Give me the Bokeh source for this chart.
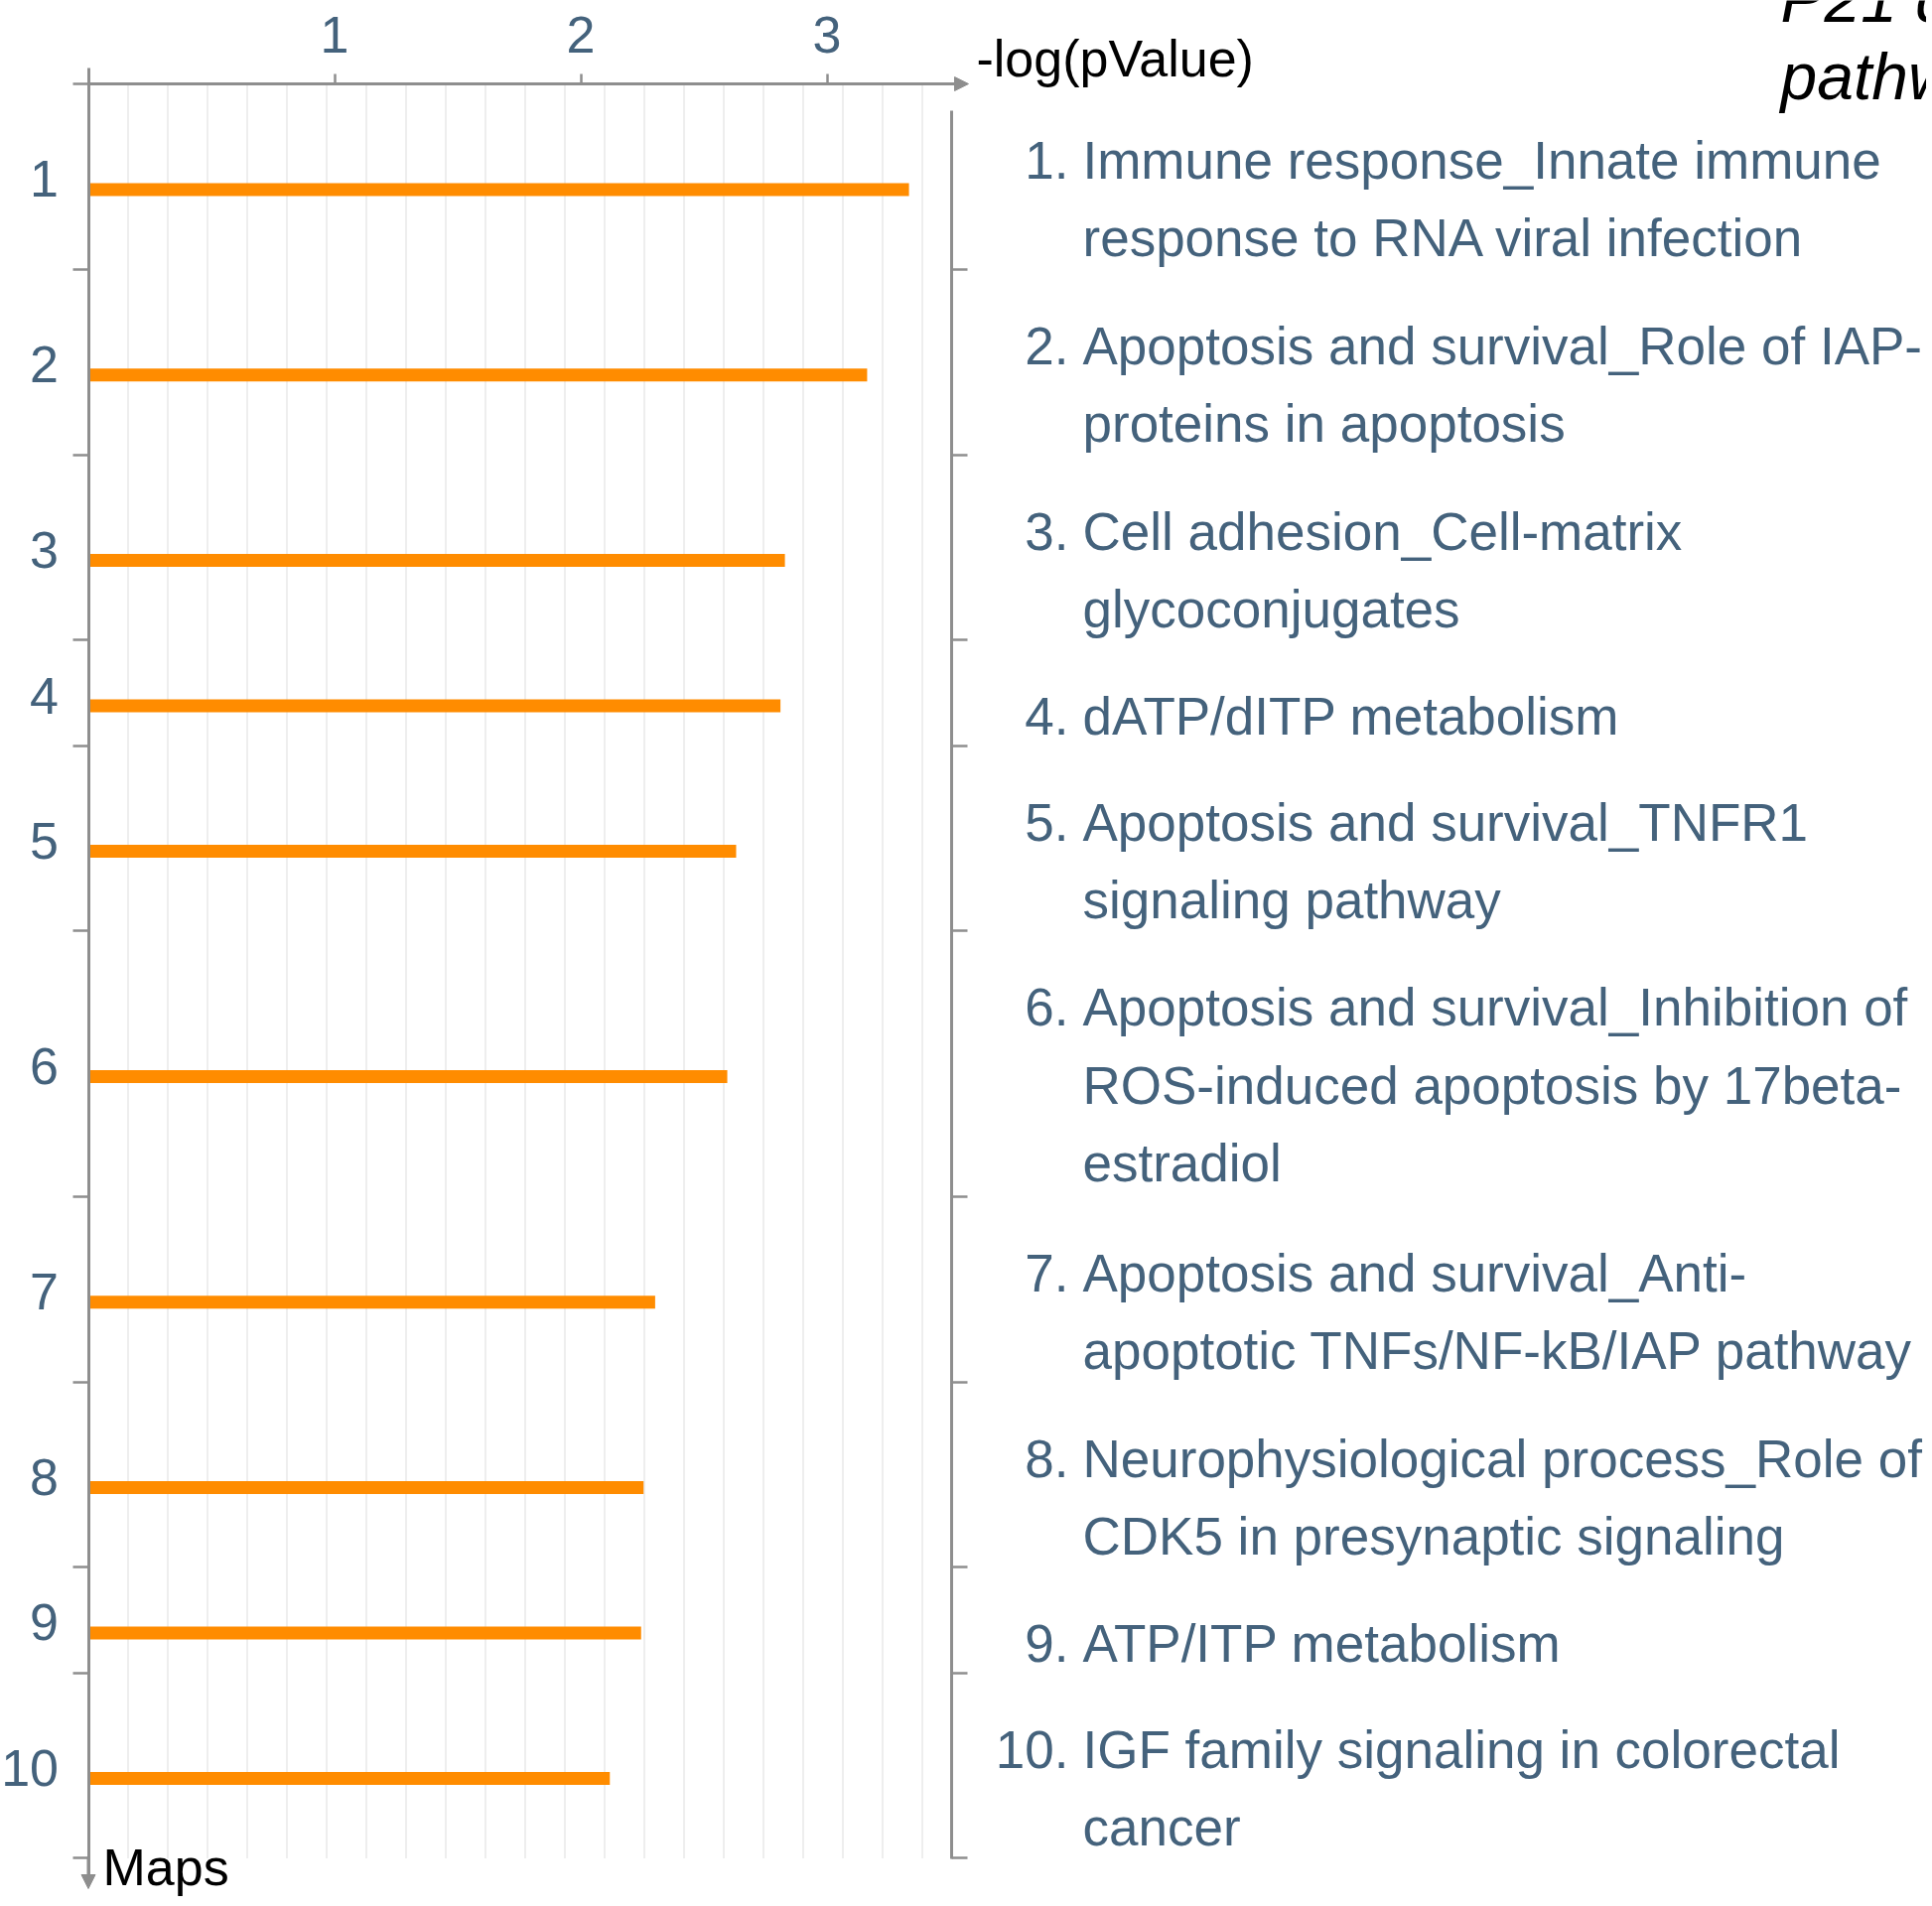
import numpy as np
from bokeh.plotting import figure
from bokeh.models import (Range1d, LinearAxis, FixedTicker, Arrow, NormalHead,
                          ColumnDataSource, CustomJSTickFormatter)
from bokeh.core.properties import value
from bokeh.embed import file_html
from bokeh.resources import INLINE

# ---------------- data ----------------
map_ids = [1, 2, 3, 4, 5, 6, 7, 8, 9, 10]
neg_log_p = [3.333, 3.163, 2.829, 2.811, 2.631, 2.595, 2.302, 2.255, 2.245, 2.118]
map_lines = [
    ["Immune response_Innate immune", "response to RNA viral infection"],
    ["Apoptosis and survival_Role of IAP-", "proteins in apoptosis"],
    ["Cell adhesion_Cell-matrix", "glycoconjugates"],
    ["dATP/dITP metabolism"],
    ["Apoptosis and survival_TNFR1", "signaling pathway"],
    ["Apoptosis and survival_Inhibition of", "ROS-induced apoptosis by 17beta-", "estradiol"],
    ["Apoptosis and survival_Anti-", "apoptotic TNFs/NF-kB/IAP pathway"],
    ["Neurophysiological process_Role of", "CDK5 in presynaptic signaling"],
    ["ATP/ITP metabolism"],
    ["IGF family signaling in colorectal", "cancer"],
]
x_ticks = [1, 2, 3]
x_title = "-log(pValue)"
y_title = "Maps"
chart_title = ["P21 d", "pathw"]

# ---------------- geometry / style ----------------
W, H = 1940, 1910
PX_PER_UNIT = 248.0
X_ZERO = 88.5      # canvas x of value 0
Y_ZERO = 84.0      # canvas y of the top axis
BL = 0.36          # baseline correction (fraction of font size)


def vx(px):
    return (px - X_ZERO) / PX_PER_UNIT


def vy(py):
    return py - Y_ZERO


def ty(baseline_px, size):
    return vy(baseline_px - BL * size)


AXIS = "#8e8e8e"
TEXT = "#44627c"
FONT = "Liberation Sans"
BAR = "#ff8c00"
GRID = "#e9e9e9"

p = figure(width=W, height=H,
           x_range=Range1d(vx(0), vx(W)),
           y_range=Range1d(vy(H), vy(0)),
           output_backend="svg", toolbar_location=None,
           x_axis_location=None, y_axis_location=None,
           min_border=0, min_border_left=0, min_border_right=0,
           min_border_top=0, min_border_bottom=0,
           outline_line_color=None,
           background_fill_color="white", border_fill_color="white")
p.xgrid.visible = False
p.ygrid.visible = False

# band layout derived from the number of text lines of every map
LINE_STEP = 80.6
BAND_PAD = 25.6
band_h = [BAND_PAD + LINE_STEP * len(l) for l in map_lines]
edges = np.concatenate([[0.0], np.cumsum(band_h)])
centers = (edges[:-1] + edges[1:]) / 2
bar_y = centers + 13
label_y = [int(round(c + 2)) for c in centers]

# vertical grid lines
GRID_STEP = 40 / PX_PER_UNIT
gx = [k * GRID_STEP for k in range(1, 22)]
p.segment(x0=gx, y0=[0] * len(gx), x1=gx, y1=[edges[-1]] * len(gx),
          line_color=GRID, line_width=1.5)

# bars
src = ColumnDataSource(dict(y=bar_y, right=neg_log_p))
p.hbar(y="y", left=0, right="right", height=13, source=src,
       fill_color=BAR, line_color=None)

blank = CustomJSTickFormatter(code="return ''")

# top value axis
top_axis = LinearAxis(fixed_location=0, bounds=(0, vx(958)),
                      ticker=FixedTicker(ticks=x_ticks, minor_ticks=[]),
                      axis_line_color=AXIS, axis_line_width=3,
                      major_tick_line_color=AXIS, major_tick_line_width=2.5,
                      major_tick_out=10, major_tick_in=0,
                      minor_tick_out=0, minor_tick_in=0,
                      major_label_standoff=22,
                      major_label_text_font=FONT,
                      major_label_text_font_size="52px",
                      major_label_text_color=TEXT)
p.add_layout(top_axis, "above")

# left map axis
left_axis = LinearAxis(fixed_location=0, bounds=(vy(68), vy(1890)),
                       ticker=FixedTicker(ticks=label_y, minor_ticks=list(edges)),
                       major_label_overrides={ly: str(i) for ly, i in zip(label_y, map_ids)},
                       axis_line_color=AXIS, axis_line_width=3,
                       major_tick_out=0, major_tick_in=0,
                       minor_tick_line_color=AXIS, minor_tick_line_width=2.5,
                       minor_tick_out=16, minor_tick_in=0,
                       major_label_standoff=14,
                       major_label_text_font=FONT,
                       major_label_text_font_size="52px",
                       major_label_text_color=TEXT)
p.add_layout(left_axis, "left")

# separator axis on the right of the bars
right_axis = LinearAxis(fixed_location=vx(958), bounds=(vy(111), edges[-1] + 0.5),
                        ticker=FixedTicker(ticks=list(edges[1:]), minor_ticks=[]),
                        formatter=blank,
                        axis_line_color=AXIS, axis_line_width=3,
                        major_tick_line_color=AXIS, major_tick_line_width=2.5,
                        major_tick_out=16, major_tick_in=0,
                        minor_tick_out=0, minor_tick_in=0)
p.add_layout(right_axis, "right")

# arrow heads
p.add_layout(Arrow(end=NormalHead(size=14, fill_color=AXIS, line_color=AXIS, line_width=1),
                   x_start=vx(945), y_start=0, x_end=vx(975), y_end=0,
                   line_color=AXIS, line_width=3))
p.add_layout(Arrow(end=NormalHead(size=14, fill_color=AXIS, line_color=AXIS, line_width=1),
                   x_start=0, y_start=vy(1870), x_end=0, y_end=vy(1902),
                   line_color=AXIS, line_width=3))

# axis titles
p.text(x=[vx(983)], y=[ty(77, 52)], text=[x_title], text_align="left",
       text_baseline="alphabetic", text_font=value(FONT), text_font_size="52px",
       text_color="black")
p.text(x=[vx(103)], y=[ty(1899, 52)], text=[y_title], text_align="left",
       text_baseline="alphabetic", text_font=value(FONT), text_font_size="52px",
       text_color="black")

# chart title (runs past the right edge, as in the original)
p.text(x=[vx(1793)] * 2, y=[ty(22, 66), ty(100, 66)], text=chart_title, text_align="left",
       text_baseline="alphabetic", text_font=value(FONT), text_font_size="66px",
       text_font_style="italic", text_color="black")

# numbered list of maps
num_y = [ty(Y_ZERO + edges[i] + 96, 53) for i in range(len(map_ids))]
p.text(x=[vx(1076)] * len(map_ids), y=num_y, text=[f"{i}." for i in map_ids],
       text_align="right", text_baseline="alphabetic", text_font=value(FONT),
       text_font_size="53px", text_color=TEXT)
line_y, line_t = [], []
for i, lines in enumerate(map_lines):
    for k, t in enumerate(lines):
        line_y.append(ty(Y_ZERO + edges[i] + 96 + 78.2 * k, 53))
        line_t.append(t)
p.text(x=[vx(1090)] * len(line_t), y=line_y, text=line_t,
       text_align="left", text_baseline="alphabetic", text_font=value(FONT),
       text_font_size="53px", text_color=TEXT)

open("out.html", "w").write(file_html(p, INLINE))
